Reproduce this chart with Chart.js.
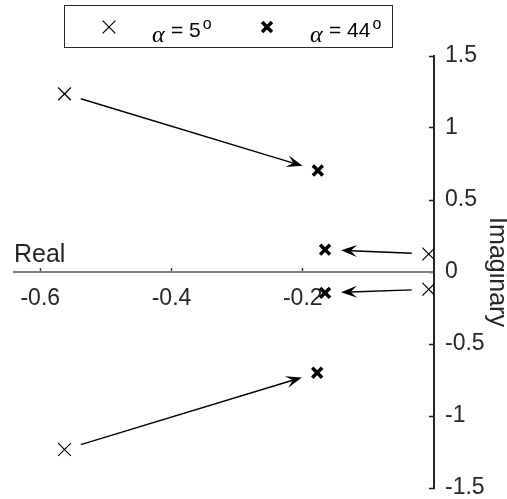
<!DOCTYPE html>
<html>
<head>
<meta charset="utf-8">
<script src="https://cdn.jsdelivr.net/npm/chart.js@4"></script>
<style>
  html, body { margin: 0; padding: 0; background: #fff; }
  #wrap { width: 507px; height: 499px; }
</style>
</head>
<body>
<div id="wrap"><canvas id="poles" width="507" height="499"></canvas></div>
<script>
// pole locations (real / imaginary parts)
const alpha5Re = [-0.563, -0.008, -0.008, -0.563]
const alpha5Im = [1.237, 0.125, -0.12, -1.233]
const alpha44Re = [-0.177, -0.166, -0.166, -0.178]
const alpha44Im = [0.705, 0.155, -0.145, -0.70]
const xTicks = [-0.6, -0.4, -0.2]
const yTicks = [-1.5, -1, -0.5, 0, 0.5, 1, 1.5]
const alphaLabels = ['5', '44']

const toPts = (re, im) => re.map((r, i) => ({ x: r, y: im[i] }))

const ink = '#262626'
const sans = "'Liberation Sans', Arial, sans-serif"

// arrow from each alpha=5 pole to the matching alpha=44 pole
const arrowPlugin = {
  id: 'arrows',
  afterDatasetsDraw(chart) {
    const a = chart.getDatasetMeta(0).data
    const b = chart.getDatasetMeta(1).data
    const ctx = chart.ctx
    ctx.save()
    ctx.strokeStyle = '#000'
    ctx.fillStyle = '#000'
    ctx.lineWidth = 1.4
    a.forEach((p, i) => {
      const q = b[i]
      const dx = q.x - p.x, dy = q.y - p.y
      const len = Math.hypot(dx, dy)
      const ux = dx / len, uy = dy / len
      const sx = p.x + ux * 17, sy = p.y + uy * 17
      const tx = q.x - ux * 16, ty = q.y - uy * 16
      const hl = 16, hw = 6
      const bx = tx - ux * hl, by = ty - uy * hl
      const nx = tx - ux * hl * 0.6, ny = ty - uy * hl * 0.6
      ctx.beginPath()
      ctx.moveTo(sx, sy)
      ctx.lineTo(nx, ny)
      ctx.stroke()
      ctx.beginPath()
      ctx.moveTo(tx, ty)
      ctx.lineTo(bx - uy * hw, by + ux * hw)
      ctx.lineTo(nx, ny)
      ctx.lineTo(bx + uy * hw, by - ux * hw)
      ctx.closePath()
      ctx.fill()
    })
    ctx.restore()
  }
}

// boxed legend along the top
const legendPlugin = {
  id: 'boxLegend',
  afterDraw(chart) {
    const ctx = chart.ctx
    ctx.save()
    ctx.strokeStyle = ink
    ctx.lineWidth = 1
    ctx.strokeRect(64.5, 5.5, 328, 42)
    const spots = [{ mx: 109, tx: 152 }, { mx: 267, tx: 310 }]
    chart.data.datasets.forEach((ds, i) => {
      const { mx, tx } = spots[i]
      const r = ds.pointRadius * 0.707
      ctx.strokeStyle = '#000'
      ctx.lineWidth = ds.borderWidth
      ctx.beginPath()
      ctx.moveTo(mx - r, 27 - r); ctx.lineTo(mx + r, 27 + r)
      ctx.moveTo(mx - r, 27 + r); ctx.lineTo(mx + r, 27 - r)
      ctx.stroke()
      ctx.fillStyle = '#000'
      ctx.textBaseline = 'alphabetic'
      ctx.font = "italic 24px 'Liberation Serif', serif"
      ctx.fillText('α', tx, 42)
      ctx.font = '21px ' + sans
      const t = '= ' + alphaLabels[i]
      ctx.fillText(t, tx + 19, 37)
      const w = ctx.measureText(t).width
      ctx.font = '16px ' + sans
      ctx.fillText('o', tx + 21 + w, 29)
    })
    ctx.restore()
  }
}

new Chart(document.getElementById('poles'), {
  type: 'scatter',
  data: {
    datasets: [
      {
        label: 'α = 5°',
        data: toPts(alpha5Re, alpha5Im),
        pointStyle: 'crossRot',
        pointRadius: 9,
        borderWidth: 1.2,
        borderColor: '#000',
        backgroundColor: '#000',
      },
      {
        label: 'α = 44°',
        data: toPts(alpha44Re, alpha44Im),
        pointStyle: 'crossRot',
        pointRadius: 7,
        borderWidth: 3.5,
        borderColor: '#000',
        backgroundColor: '#000',
      },
    ],
  },
  options: {
    responsive: false,
    animation: false,
    layout: { padding: { left: 14, top: 56, bottom: 11, right: 0 } },
    plugins: {
      legend: { display: false },
      tooltip: { enabled: false },
    },
    scales: {
      x: {
        type: 'linear',
        min: -0.64,
        max: 0,
        position: { y: 0 },
        afterBuildTicks: s => { s.ticks = xTicks.map(v => ({ value: v })) },
        afterFit: s => { s.height = 0; s.paddingLeft = 0; s.paddingRight = 0 },
        grid: { drawOnChartArea: false, tickLength: -5, tickColor: '#404040', tickWidth: 1.5 },
        border: { color: '#808080', width: 2 },
        ticks: { padding: 18, color: ink, font: { family: sans, size: 23 }, callback: v => String(v) },
        title: {
          display: true, text: 'Real', align: 'start', color: ink,
          font: { family: sans, size: 25 }, padding: { top: 0, bottom: 2 },
        },
      },
      y: {
        type: 'linear',
        min: -1.5,
        max: 1.5,
        position: 'right',
        afterBuildTicks: s => { s.ticks = yTicks.map(v => ({ value: v })) },
        afterFit: s => { s.width = 73; s.paddingTop = 0; s.paddingBottom = 0 },
        grid: { drawOnChartArea: false, tickLength: -5, tickColor: ink, tickWidth: 1.5 },
        border: { color: ink, width: 2 },
        ticks: { padding: 16, color: ink, font: { family: sans, size: 23 }, callback: v => String(v) },
        title: {
          display: true, text: 'Imaginary', color: ink,
          font: { family: sans, size: 25, lineHeight: 0.8 }, padding: 0,
        },
      },
    },
  },
  plugins: [arrowPlugin, legendPlugin],
})
</script>
</body>
</html>
